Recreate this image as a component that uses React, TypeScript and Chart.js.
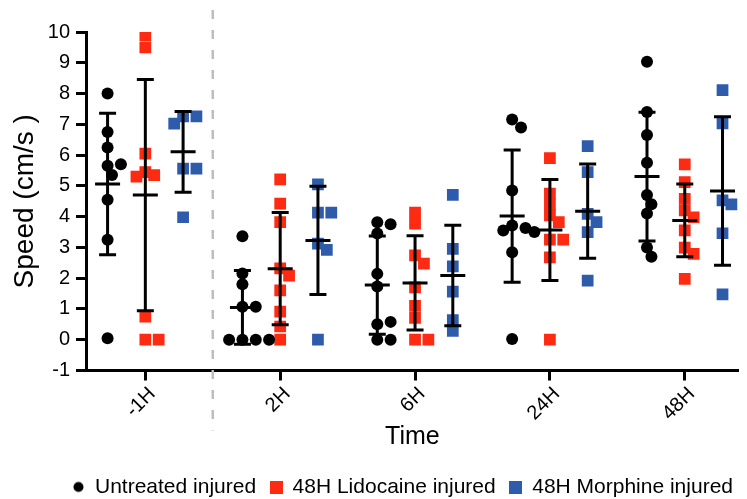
import React, { useEffect, useRef } from "react";
import { Chart, registerables } from "chart.js";

Chart.register(...registerables);

// ---------- data ----------
const timepoints = ["-1H", "2H", "6H", "24H", "48H"];
const seriesNames = ["Untreated injured", "48H Lidocaine injured", "48H Morphine injured"];
const seriesColors = ["#000000", "#ff2a12", "#2f5bab"];
const yTickMin = -1;
const yTickMax = 10;
const dividerAt = 0.5; // dashed separator between -1H and 2H

const untreated = [
  [8.0, 6.75, 6.25, 5.65, 5.7, 5.35, 4.55, 3.25, 0.05],
  [3.36, 2.15, 1.8, 1.07, 1.07, 0, 0, 0, 0],
  [3.82, 3.75, 3.45, 2.14, 1.73, 0.5, 0.58, 0, 0],
  [7.16, 6.9, 4.85, 3.71, 3.63, 3.55, 3.5, 2.84, 0.02],
  [9.03, 7.4, 6.65, 5.75, 4.7, 4.4, 4.1, 3.0, 2.7],
];
const lidocaine = [
  [9.9, 9.5, 6.05, 5.45, 5.35, 5.3, 0.75, 0, 0],
  [5.21, 4.42, 3.82, 2.32, 2.08, 1.6, 0.91, 0.43, 0],
  [4.13, 3.77, 2.74, 2.47, 1.7, 1.1, 0.71, 0, 0],
  [5.9, 4.75, 4.39, 4.04, 3.82, 3.25, 3.25, 2.68, 0],
  [5.7, 5.12, 4.58, 4.2, 3.98, 3.55, 2.99, 2.79, 1.98],
];
const morphine = [
  [7.26, 7.26, 7.02, 5.56, 5.56, 3.98],
  [5.05, 4.13, 4.13, 3.12, 2.92, 0],
  [4.71, 2.95, 2.38, 1.56, 0.64, 0.29],
  [6.29, 5.45, 4.09, 3.82, 3.5, 1.92],
  [8.11, 7.03, 4.53, 4.4, 3.46, 1.47],
];

const seriesData = [untreated, lidocaine, morphine];
const seriesStyles = ["circle", "rect", "rect"];

// ---------- layout helpers ----------
const GROUP_OFFSET = 0.28; // series offset within a timepoint (x units)
const PX_X = 136.6; // approx px per x unit (for swarm spacing)
const PX_Y = 30.7; // approx px per y unit (for swarm spacing)
const MIN_DIST = 9.5;

function swarm(vals: number[]): number[] {
  const placed: { dx: number; dy: number }[] = [];
  return vals.map((v) => {
    const dy = v * PX_Y;
    let chosen = 0;
    for (let k = 0; k < 60; k++) {
      const dx = Math.ceil(k / 2) * (k % 2 ? 1 : -1) * 4.5;
      if (placed.every((p) => Math.hypot(p.dx - dx, p.dy - dy) >= MIN_DIST)) {
        chosen = dx;
        break;
      }
    }
    placed.push({ dx: chosen, dy });
    return chosen / PX_X;
  });
}

function stats(vals: number[]) {
  const n = vals.length;
  const mean = vals.reduce((a, b) => a + b, 0) / n;
  const sd = Math.sqrt(vals.reduce((a, b) => a + (b - mean) * (b - mean), 0) / (n - 1));
  return { mean, sd };
}

function seriesOffset(s: number) {
  return (s - 1) * GROUP_OFFSET;
}

function markerCanvas(style: string, color: string) {
  const c = document.createElement("canvas");
  c.width = 13;
  c.height = 13;
  const g = c.getContext("2d")!;
  g.fillStyle = color;
  if (style === "circle") {
    g.beginPath();
    g.arc(6.5, 6.5, 5, 0, Math.PI * 2);
    g.fill();
  } else {
    g.fillRect(0, 0, 13, 13);
  }
  return c;
}

const FONT = "'Liberation Sans', Arial, sans-serif";

const overlayPlugin = {
  id: "overlay",
  beforeDatasetsDraw(chart: any) {
    const { ctx, scales, chartArea } = chart;
    const x = scales.x;
    const px = x.getPixelForValue(dividerAt);
    ctx.save();
    ctx.strokeStyle = "#bdbdbd";
    ctx.lineWidth = 2.5;
    ctx.setLineDash([9, 11]);
    ctx.beginPath();
    ctx.moveTo(px, chartArea.top - 22);
    ctx.lineTo(px, chartArea.bottom + 60);
    ctx.stroke();
    ctx.restore();
  },
  afterDatasetsDraw(chart: any) {
    const { ctx, scales } = chart;
    const x = scales.x;
    const y = scales.y;
    ctx.save();
    ctx.strokeStyle = "#000";
    ctx.lineWidth = 3;
    ctx.lineCap = "butt";
    seriesData.forEach((groups, s) => {
      groups.forEach((vals, g) => {
        const { mean, sd } = stats(vals);
        const cx = x.getPixelForValue(g + seriesOffset(s));
        const yTop = y.getPixelForValue(mean + sd);
        const yBot = y.getPixelForValue(mean - sd);
        const yMean = y.getPixelForValue(mean);
        ctx.beginPath();
        ctx.moveTo(cx, yTop);
        ctx.lineTo(cx, yBot);
        ctx.moveTo(cx - 8.5, yTop);
        ctx.lineTo(cx + 8.5, yTop);
        ctx.moveTo(cx - 8.5, yBot);
        ctx.lineTo(cx + 8.5, yBot);
        ctx.moveTo(cx - 12.5, yMean);
        ctx.lineTo(cx + 12.5, yMean);
        ctx.stroke();
      });
    });
    ctx.restore();
  },
};

export default function App() {
  const ref = useRef<HTMLCanvasElement | null>(null);

  useEffect(() => {
    if (!ref.current) return;
    Chart.defaults.font.family = FONT;
    Chart.defaults.color = "#000";

    const datasets = seriesData.map((groups, s) => {
      const pts: { x: number; y: number }[] = [];
      groups.forEach((vals, g) => {
        const jit = swarm(vals);
        vals.forEach((v, i) => pts.push({ x: g + seriesOffset(s) + jit[i], y: v }));
      });
      return {
        label: seriesNames[s],
        data: pts,
        pointStyle: seriesStyles[s] as any,
        pointRadius: seriesStyles[s] === "circle" ? 6 : 8.3,
        backgroundColor: seriesColors[s],
        borderColor: seriesColors[s],
        pointBorderWidth: 0,
        borderWidth: 0,
        showLine: false,
      };
    });

    const chart = new Chart(ref.current, {
      type: "scatter",
      data: { datasets },
      plugins: [overlayPlugin],
      options: {
        animation: false,
        responsive: false,
        layout: { padding: { top: 32, left: 0, right: 0, bottom: -8.5 } },
        plugins: {
          tooltip: { enabled: false },
          legend: {
            display: true,
            position: "bottom",
            align: "end",
            labels: {
              usePointStyle: true,
              boxWidth: 12,
              boxHeight: 12,
              padding: 14,
              color: "#000",
              font: { size: 21, family: FONT },
              generateLabels: () =>
                seriesNames.map((name, s) => ({
                  text: name,
                  fillStyle: seriesColors[s],
                  strokeStyle: seriesColors[s],
                  lineWidth: 0,
                  pointStyle: markerCanvas(seriesStyles[s], seriesColors[s]) as any,
                  hidden: false,
                  datasetIndex: s,
                })),
            },
          },
        },
        scales: {
          x: {
            type: "linear",
            min: -0.44,
            max: 4.4,
            afterBuildTicks: (scale: any) => {
              scale.ticks = timepoints.map((_, i) => ({ value: i }));
            },
            afterFit: (scale: any) => {
              scale.height = 92;
            },
            ticks: {
              autoSkip: false,
              minRotation: 45,
              maxRotation: 45,
              padding: 2,
              labelOffset: 7,
              font: { size: 20, family: FONT },
              color: "#000",
              callback: (v: any) => timepoints[v as number] ?? "",
            },
            grid: {
              display: true,
              drawOnChartArea: false,
              drawTicks: true,
              tickLength: 10,
              tickWidth: 3,
              tickColor: "#000",
            },
            border: { display: true, color: "#000", width: 3 },
            title: {
              display: true,
              text: "Time",
              color: "#000",
              font: { size: 25, family: FONT },
              padding: { top: 4, bottom: 10 },
            },
          },
          y: {
            min: yTickMin,
            max: yTickMax,
            afterFit: (scale: any) => {
              scale.width = 86;
            },
            ticks: {
              stepSize: 1,
              padding: 6,
              font: { size: 20, family: FONT },
              color: "#000",
            },
            grid: {
              display: true,
              drawOnChartArea: false,
              drawTicks: true,
              tickLength: 10,
              tickWidth: 3,
              tickColor: "#000",
            },
            border: { display: true, color: "#000", width: 3 },
            title: {
              display: true,
              text: "Speed (cm/s )",
              color: "#000",
              font: { size: 28, family: FONT },
              padding: { top: 8, bottom: 4 },
            },
          },
        },
      },
    });
    return () => chart.destroy();
  }, []);

  return (
    <div style={{ position: "fixed", left: 0, top: 0, width: 747, height: 499, background: "#fff" }}>
      <canvas ref={ref} width={747} height={499} style={{ display: "block" }} />
    </div>
  );
}
